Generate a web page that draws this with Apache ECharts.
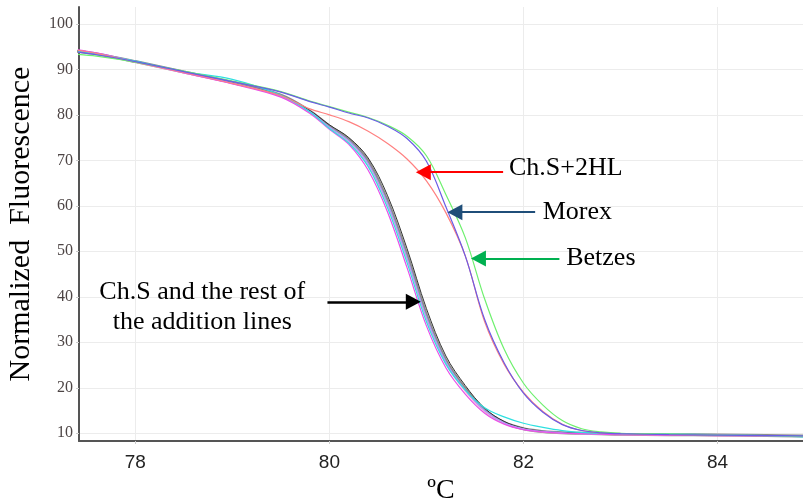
<!DOCTYPE html>
<html>
<head>
<meta charset="utf-8">
<script src="https://cdn.jsdelivr.net/npm/echarts@6/dist/echarts.min.js"></script>
<style>
  html, body { margin: 0; padding: 0; background: #fff; }
  #main { width: 803px; height: 501px; }
</style>
</head>
<body>
<div id="main"></div>
<script>
// temperatures (°C) where the curves were read
var temps = [77.4, 77.6, 78.0, 78.5, 79.0, 79.5, 79.8, 80.0, 80.2, 80.4, 80.6, 80.8, 81.0, 81.2, 81.4, 81.6, 81.8, 82.0, 82.2, 82.4, 82.6, 82.8, 83.0, 83.5, 84.0, 84.5, 84.9];

// Ch.S and the rest of the addition lines
var chsGray    = [94.0, 93.4, 91.7, 89.4, 87.1, 84.3, 80.8, 77.5, 74.6, 69.8, 61.0, 49.2, 36.0, 26.0, 19.8, 15.1, 12.4, 11.0, 10.4, 10.1, 10.0, 9.9, 9.8, 9.7, 9.6, 9.5, 9.4];
var chsBlack   = [94.1, 93.5, 91.7, 89.4, 87.0, 84.2, 80.9, 77.8, 75.0, 70.5, 62.2, 50.6, 37.4, 27.0, 20.5, 15.5, 12.6, 11.1, 10.4, 10.1, 10.0, 9.9, 9.8, 9.7, 9.6, 9.5, 9.4];
var chsCyan    = [94.0, 93.4, 91.8, 89.5, 87.8, 84.3, 80.6, 77.0, 73.8, 68.6, 59.5, 47.5, 34.5, 25.2, 19.5, 15.6, 13.6, 12.2, 11.3, 10.6, 10.2, 10.0, 9.9, 9.8, 9.7, 9.5, 9.2];
var chsMagenta = [94.3, 93.6, 91.7, 89.2, 86.8, 83.9, 80.3, 76.8, 73.5, 67.8, 58.6, 46.4, 33.6, 24.4, 18.6, 14.4, 12.0, 10.8, 10.3, 10.0, 9.9, 9.8, 9.7, 9.6, 9.5, 9.4, 9.3];
var chsPink    = [94.2, 93.5, 91.6, 89.2, 86.9, 84.0, 80.5, 77.1, 74.0, 68.9, 60.0, 48.0, 35.0, 25.3, 19.2, 14.8, 12.2, 10.9, 10.3, 10.0, 9.9, 9.8, 9.7, 9.6, 9.5, 9.4, 9.3];
var chsViolet  = [94.1, 93.4, 91.7, 89.3, 87.0, 84.1, 80.7, 77.3, 74.3, 69.3, 60.5, 48.6, 35.5, 25.7, 19.5, 15.0, 12.3, 11.0, 10.4, 10.1, 9.9, 9.8, 9.8, 9.7, 9.6, 9.5, 9.4];

var morex  = [93.8, 93.2, 91.7, 89.5, 87.3, 85.0, 82.9, 81.7, 80.4, 79.3, 77.5, 74.8, 69.8, 59.8, 49.0, 35.0, 25.5, 18.8, 14.6, 11.9, 10.6, 10.1, 9.9, 9.7, 9.6, 9.5, 9.4];
var betzes = [93.3, 92.9, 91.6, 89.6, 87.4, 85.1, 83.0, 81.8, 80.6, 79.4, 77.7, 75.3, 71.0, 62.5, 53.0, 39.5, 28.5, 21.0, 16.2, 12.8, 11.0, 10.3, 10.0, 9.8, 9.6, 9.5, 9.4];
var chs2HL = [94.2, 93.5, 91.6, 89.3, 86.9, 84.2, 81.3, 80.0, 78.5, 76.4, 73.7, 70.3, 65.5, 58.5, 49.0, 34.5, 25.2, 19.0, 14.8, 12.0, 10.6, 10.1, 9.9, 9.7, 9.6, 9.5, 9.4];

var xTicks = [78, 80, 82, 84];
var yTicks = [10, 20, 30, 40, 50, 60, 70, 80, 90, 100];

function pairs(ys) {
  return temps.map(function (t, i) { return [t, ys[i]]; });
}

function curve(ys, color, width) {
  return {
    type: 'line',
    data: pairs(ys),
    smooth: 0.35,
    showSymbol: false,
    silent: true,
    lineStyle: { color: color, width: width }
  };
}

function arrow(from, to, color, width) {
  return [
    { coord: from, lineStyle: { color: color, width: width, type: 'solid' }, symbol: 'none' },
    { coord: to, symbol: 'triangle' }
  ];
}

function note(text, coord, align) {
  return {
    coord: coord,
    symbol: 'circle',
    symbolSize: 0,
    label: {
      show: true,
      position: 'inside',
      formatter: text,
      align: align,
      verticalAlign: 'middle',
      color: '#000',
      fontFamily: 'Liberation Serif',
      fontSize: 26,
      lineHeight: 30
    }
  };
}

var chart = echarts.init(document.getElementById('main'));

var series = [
  curve(chsGray, '#8c8c8c', 3),
  curve(chsBlack, '#333333', 1),
  curve(chsPink, '#ffaed0', 1.2),
  curve(chsViolet, '#a99bff', 1.2),
  curve(chsMagenta, '#e94fe9', 1.2),
  curve(chsCyan, '#2fe0e0', 1.2),
  curve(chs2HL, '#ff8080', 1.2),
  curve(betzes, '#6ef06e', 1.2),
  curve(morex, '#6a5ce6', 1.2)
];

series[0].markLine = {
  silent: true,
  animation: false,
  symbolSize: [16, 15],
  label: { show: false },
  data: [
    arrow([81.79, 67.4], [80.968, 67.4], '#ff0000', 2),
    arrow([82.12, 58.6], [81.293, 58.6], '#1f4e79', 2),
    arrow([82.37, 48.4], [81.536, 48.4], '#00b050', 2),
    arrow([79.98, 38.9], [80.865, 38.9], '#000000', 2.5)
  ]
};
series[0].markPoint = {
  silent: true,
  animation: false,
  data: [
    note('Ch.S+2HL', [81.85, 68.2], 'left'),
    note('Morex', [82.198, 58.6], 'left'),
    note('Betzes', [82.44, 48.5], 'left'),
    note('Ch.S and the rest of\nthe addition lines', [78.69, 37.8], 'center')
  ]
};

var option = {
  animation: false,
  grid: { left: 79, right: 0, top: 7, bottom: 60, outerBoundsMode: 'none' },
  xAxis: {
    type: 'value',
    min: 77.42,
    max: 84.88,
    name: 'ºC',
    nameLocation: 'middle',
    nameGap: 33,
    nameTextStyle: { fontFamily: 'Liberation Serif', fontSize: 28, color: '#000' },
    axisLine: { onZero: false, lineStyle: { color: '#555', width: 2 } },
    axisTick: { show: true, length: 3, customValues: xTicks, lineStyle: { color: '#ccc' } },
    axisLabel: { customValues: xTicks, margin: 12, fontFamily: 'Liberation Sans', fontSize: 19, color: '#222' },
    splitLine: { show: true, lineStyle: { color: '#ececec', width: 1 } }
  },
  yAxis: {
    type: 'value',
    min: 8.3,
    max: 103.7,
    name: 'Normalized  Fluorescence',
    nameLocation: 'middle',
    nameGap: 43,
    nameTextStyle: { fontFamily: 'Liberation Serif', fontSize: 30, color: '#000' },
    axisLine: { show: true, lineStyle: { color: '#555', width: 2 } },
    axisTick: { show: true, length: 3, customValues: yTicks, lineStyle: { color: '#ccc' } },
    axisLabel: { customValues: yTicks, margin: 6, fontFamily: 'Liberation Serif', fontSize: 16, color: '#4d4545' },
    splitLine: { show: true, lineStyle: { color: '#ececec', width: 1 } }
  },
  series: series
};

chart.setOption(option);
</script>
</body>
</html>
